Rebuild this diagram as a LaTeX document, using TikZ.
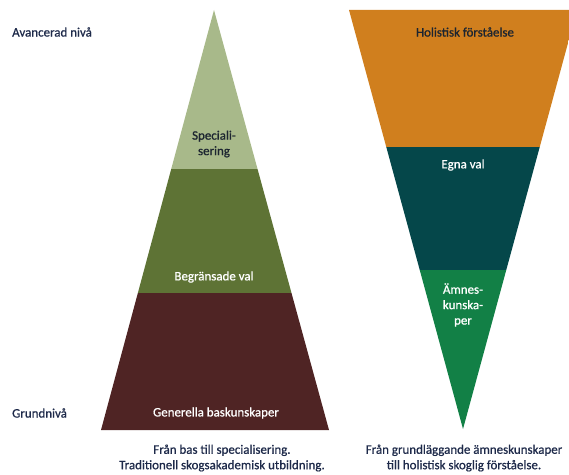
\documentclass[tikz,border=0pt]{standalone}
\usepackage{fontspec}
\setmainfont[FakeBold=0.8]{Carlito}
\definecolor{cSpec}{HTML}{A8B98A}
\definecolor{cBeg}{HTML}{5E7335}
\definecolor{cGen}{HTML}{4F2424}
\definecolor{cHol}{HTML}{D07F1E}
\definecolor{cEgna}{HTML}{05474A}
\definecolor{cAmn}{HTML}{128046}
\definecolor{cNavy}{HTML}{1E2A4A}
\definecolor{cDark}{HTML}{1C2530}
\tikzset{
  lbl/.style={font=\fontsize{13}{15.5}\selectfont, align=center, inner sep=0pt},
  darklbl/.style={lbl, text=cDark},
  whitelbl/.style={lbl, text=white},
  sidelbl/.style={lbl, text=cNavy, anchor=west},
  caption/.style={lbl, text=cNavy}
}
\begin{document}
\begin{tikzpicture}[x=1bp,y=-1bp]
\useasboundingbox (0,0) rectangle (569,475);
% left pyramid
\coordinate (LA) at (214,10);
\coordinate (LBL) at (101,430);
\coordinate (LBR) at (329,430);
\begin{scope}
  \clip (LA) -- (LBL) -- (LBR) -- cycle;
  \fill[cSpec] (90,0) rectangle (340,169);
  \fill[cBeg] (90,169) rectangle (340,293);
  \fill[cGen] (90,293) rectangle (340,431);
\end{scope}
% right funnel
\coordinate (RTL) at (349,10);
\coordinate (RTR) at (577,10);
\coordinate (RA) at (463,429);
\begin{scope}
  \clip (0,0) rectangle (569,475);
  \clip (RTL) -- (RTR) -- (RA) -- cycle;
  \fill[cHol] (340,9) rectangle (580,147);
  \fill[cEgna] (340,147) rectangle (580,270);
  \fill[cAmn] (340,270) rectangle (580,430);
\end{scope}
% labels
\node[sidelbl] (avancerad) at (12,32) {Avancerad nivå};
\node[sidelbl] (grund) at (12,413) {Grundnivå};
\node[darklbl] (spec) at (214,144) {Speciali-\\sering};
\node[whitelbl] (beg) at (214,277) {Begränsade val};
\node[whitelbl] (gen) at (216,413) {Generella baskunskaper};
\node[darklbl] (hol) at (465,32) {Holistisk förståelse};
\node[whitelbl] (egna) at (463,165) {Egna val};
\node[whitelbl] (amn) at (463,305) {Ämnes-\\kunska-\\per};
\node[caption] (capL) at (222,458) {Från bas till specialisering.\\Traditionell skogsakademisk utbildning.};
\node[caption] (capR) at (464,458) {Från grundläggande ämneskunskaper\\till holistisk skoglig förståelse.};
\end{tikzpicture}
\end{document}
